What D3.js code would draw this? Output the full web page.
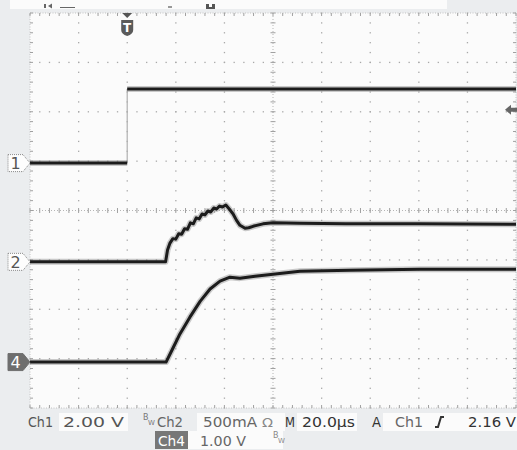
<!DOCTYPE html>
<meta charset="utf-8">
<head>
<script src="https://d3js.org/d3.v7.min.js"></script>
<style>
  body { margin: 0; background: #ebedef; }
  svg { display: block; }
  text { font-family: "DejaVu Sans", sans-serif; }
</style>
</head>
<body>
<svg id="scope" width="517" height="450"></svg>
<script>
// time in microseconds, 20 us/div, trigger 2 div from the left
var timeRange = [-40, 160];

// channel settings: volts (or amps) per div and marker offset in divisions
var ch1Scale = 2.0, ch1Offset = 0.96;
var ch2Scale = 0.5, ch2Offset = -1.04;
var ch4Scale = 1.0, ch4Offset = -3.07;
var trigLevel = 2.16;

// Ch1 : gate step (V)
var ch1T = [-40, 0, 0, 160];
var ch1V = [0, 0, 3.0, 3.0];

// Ch2 : current (A), ringing on the way up
var ch2T = [-40, 15.8, 16.6, 17.6, 18.8, 20.0, 21.2, 22.4, 23.6, 24.8, 26.0, 27.2, 28.4, 29.6,
            30.8, 32.0, 33.2, 34.4, 35.6, 36.8, 38.0, 39.2, 40.6, 42.0, 43.7, 45.0, 46.4,
            48.5, 50.0, 51.8, 55.9, 60, 71, 90, 120, 160];
var ch2V = [0, 0, 0.12, 0.19, 0.235, 0.23, 0.285, 0.28, 0.335, 0.33, 0.395, 0.385, 0.445, 0.435,
            0.485, 0.475, 0.515, 0.505, 0.545, 0.535, 0.565, 0.555, 0.575, 0.535, 0.48, 0.42, 0.37,
            0.34, 0.345, 0.36, 0.385, 0.395, 0.39, 0.385, 0.385, 0.38];

// Ch4 : output voltage (V)
var ch4T = [-40, 16, 18.4, 21.7, 25.8, 30, 34.1, 38.2, 42.3, 46.4, 52.6, 60, 71.1, 91.7, 120.5, 160];
var ch4V = [0, 0, 0.24, 0.57, 0.91, 1.23, 1.48, 1.64, 1.72, 1.70, 1.74, 1.78, 1.84, 1.86, 1.88, 1.88];

var L = 30, R = 516, T = 13, B = 408;
var svg = d3.select("#scope");

var x = d3.scaleLinear().domain(timeRange).range([L, R]);
var y = d3.scaleLinear().domain([-4, 4]).range([B, T]);

// top status strip (mostly cut off)
svg.append("rect").attr("x", 10).attr("y", 0).attr("width", 437).attr("height", 9).attr("fill", "#fbfbfb");
svg.append("rect").attr("x", 44).attr("y", 4).attr("width", 2).attr("height", 4).attr("fill", "#666");
svg.append("path").attr("d", "M48,6 l4,-2.5 v5 z").attr("fill", "#666");
svg.append("rect").attr("x", 60).attr("y", 7).attr("width", 15).attr("height", 1).attr("fill", "#666");
svg.append("rect").attr("x", 168).attr("y", 6).attr("width", 4).attr("height", 2).attr("fill", "#999");
svg.append("path").attr("d", "M206,4 h3 v3 h3 v-3 h3 v5 h-9 z").attr("fill", "#555");

// plot area
svg.append("rect").attr("x", L).attr("y", T).attr("width", R - L).attr("height", B - T).attr("fill", "#fbfbfb");

var g = svg.append("g");
var minorX = d3.range(-40, 160.01, 4);
var minorY = d3.range(-4, 4.01, 0.2);

// grid dots on the major lines
d3.range(-20, 160, 20).forEach(function(t) {
  if (t === 60) return;
  g.selectAll(null).data(minorY).enter().append("rect")
    .attr("x", x(t) - 0.6).attr("y", function(d) { return y(d) - 0.6; })
    .attr("width", 1.3).attr("height", 1.3).attr("fill", "#a8a8a8");
});
d3.range(-3, 4, 1).forEach(function(v) {
  if (v === 0) return;
  g.selectAll(null).data(minorX).enter().append("rect")
    .attr("x", function(d) { return x(d) - 0.6; }).attr("y", y(v) - 0.6)
    .attr("width", 1.3).attr("height", 1.3).attr("fill", "#a8a8a8");
});

// centre cross with ticks
g.append("line").attr("x1", L).attr("x2", R).attr("y1", y(0)).attr("y2", y(0))
  .attr("stroke", "#b5b5b5").attr("stroke-dasharray", "1,2");
g.append("line").attr("x1", x(60)).attr("x2", x(60)).attr("y1", T).attr("y2", B)
  .attr("stroke", "#b5b5b5").attr("stroke-dasharray", "1,2");
g.selectAll(null).data(minorX).enter().append("line")
  .attr("x1", function(d) { return x(d); }).attr("x2", function(d) { return x(d); })
  .attr("y1", y(0) - 2.5).attr("y2", y(0) + 2.5).attr("stroke", "#a0a0a0");
g.selectAll(null).data(minorY).enter().append("line")
  .attr("y1", function(d) { return y(d); }).attr("y2", function(d) { return y(d); })
  .attr("x1", x(60) - 2.5).attr("x2", x(60) + 2.5).attr("stroke", "#a0a0a0");

// border with inward ticks
g.append("rect").attr("x", L).attr("y", T).attr("width", R - L).attr("height", B - T)
  .attr("fill", "none").attr("stroke", "#c4c4c4").attr("stroke-dasharray", "1,1.5");
g.selectAll(null).data(minorX).enter().append("line")
  .attr("x1", function(d) { return x(d); }).attr("x2", function(d) { return x(d); })
  .attr("y1", T).attr("y2", T + 3).attr("stroke", "#a0a0a0");
g.selectAll(null).data(minorX).enter().append("line")
  .attr("x1", function(d) { return x(d); }).attr("x2", function(d) { return x(d); })
  .attr("y1", B).attr("y2", B - 3).attr("stroke", "#a0a0a0");
g.selectAll(null).data(minorY).enter().append("line")
  .attr("y1", function(d) { return y(d); }).attr("y2", function(d) { return y(d); })
  .attr("x1", L).attr("x2", L + 3).attr("stroke", "#a0a0a0");
g.selectAll(null).data(minorY).enter().append("line")
  .attr("y1", function(d) { return y(d); }).attr("y2", function(d) { return y(d); })
  .attr("x1", R).attr("x2", R - 3).attr("stroke", "#a0a0a0");

// traces
function trace(ts, vs, scale, offset) {
  var pts = ts.map(function(t, i) { return [x(t), y(offset + vs[i] / scale)]; });
  // fast edges (same time twice) are drawn faint and thin
  for (var i = 1; i < ts.length; i++) {
    if (ts[i] === ts[i - 1]) {
      svg.append("line").attr("x1", pts[i][0]).attr("x2", pts[i][0])
        .attr("y1", pts[i - 1][1]).attr("y2", pts[i][1])
        .attr("stroke", "#b0b0b0").attr("stroke-width", 1.2);
    }
  }
  var line = d3.line();
  var segs = [[pts[0]]];
  for (var j = 1; j < pts.length; j++) {
    if (ts[j] === ts[j - 1]) segs.push([pts[j]]);
    else segs[segs.length - 1].push(pts[j]);
  }
  segs.forEach(function(s) {
    if (s.length < 2) return;
    svg.append("path").attr("d", line(s)).attr("fill", "none")
      .attr("stroke", "#8c8c8c").attr("stroke-opacity", 0.45).attr("stroke-width", 6)
      .attr("stroke-linejoin", "round");
    svg.append("path").attr("d", line(s)).attr("fill", "none")
      .attr("stroke", "#1c1c1c").attr("stroke-width", 3).attr("stroke-linejoin", "round");
  });
}
trace(ch1T, ch1V, ch1Scale, ch1Offset);
trace(ch2T, ch2V, ch2Scale, ch2Offset);
trace(ch4T, ch4V, ch4Scale, ch4Offset);

// channel ground markers
function marker(label, offset, filled) {
  var cy = y(offset);
  svg.append("path")
    .attr("d", "M8," + (cy - 8.5) + " H23 L30," + cy + " L23," + (cy + 8.5) + " H8 Z")
    .attr("fill", filled ? "#6e6e6e" : "#fdfdfd")
    .attr("stroke", filled ? "#6e6e6e" : "#8a8a8a").attr("stroke-dasharray", filled ? null : "1,1");
  svg.append("text").attr("x", 10.5).attr("y", cy + 6).attr("font-size", 16)
    .attr("fill", filled ? "#fff" : "#555").text(label);
}
marker("1", ch1Offset, false);
marker("2", ch2Offset, false);
marker("4", ch4Offset, true);

// trigger position marker
var tx = x(0);
svg.append("path").attr("d", "M" + (tx - 5) + "," + T + " h10 l-5,5 z").attr("fill", "#555");
svg.append("path")
  .attr("d", "M" + (tx - 6) + ",20 h12 v10 q0,4 -6,6 q-6,-2 -6,-6 z").attr("fill", "#5a5a5a");
svg.append("text").attr("x", tx).attr("y", 32).attr("text-anchor", "middle")
  .attr("font-size", 12).attr("font-weight", "bold").attr("fill", "#fff").text("T");

// trigger level arrow
var ty = y(ch1Offset + trigLevel / ch1Scale);
svg.append("path")
  .attr("d", "M505," + ty + " l6,-5 v3 h6 v4 h-6 v3 z").attr("fill", "#666");

// readout
var rd = svg.append("g").attr("font-size", 14.5);
function box(x0, y0, w, h, c) {
  rd.append("rect").attr("x", x0).attr("y", y0).attr("width", w).attr("height", h).attr("fill", c);
}
function txt(x0, y0, s, c, w, size) {
  var t = rd.append("text").attr("x", x0).attr("y", y0).attr("fill", c).text(s);
  if (size) t.attr("font-size", size);
  if (w) t.attr("textLength", w).attr("lengthAdjust", "spacingAndGlyphs");
}
box(59, 413, 69, 18, "#fbfbfb");
box(197, 413, 88, 18, "#fbfbfb");
box(297, 413, 60, 18, "#fbfbfb");
box(383, 413, 134, 18, "#fbfbfb");
box(188, 431, 95, 18, "#fbfbfb");
box(155, 431, 33, 18, "#777");

txt(28, 427, "Ch1", "#555", 25);
txt(63, 427, "2.00 V", "#555", 61);
txt(143, 420, "B", "#777", 0, 8);
txt(148, 425, "W", "#777", 0, 7);
txt(157, 427, "Ch2", "#666", 26);
txt(203, 427, "500mA", "#666", 54);
txt(262, 427, "Ω", "#888", 11, 13);
txt(285, 427, "M", "#333", 10);
txt(302, 427, "20.0µs", "#333", 53);
txt(372, 427, "A", "#333", 9);
txt(395, 427, "Ch1", "#666", 28);
rd.append("path").attr("d", "M435,427 h3 l3,-10 h3").attr("fill", "none")
  .attr("stroke", "#333").attr("stroke-width", 2);
txt(468, 427, "2.16 V", "#333", 48);
txt(158, 446, "Ch4", "#fff", 27);
txt(200, 446, "1.00 V", "#666", 46);
txt(273, 438, "B", "#888", 0, 8);
txt(278, 443, "W", "#888", 0, 7);
</script>
</body>
